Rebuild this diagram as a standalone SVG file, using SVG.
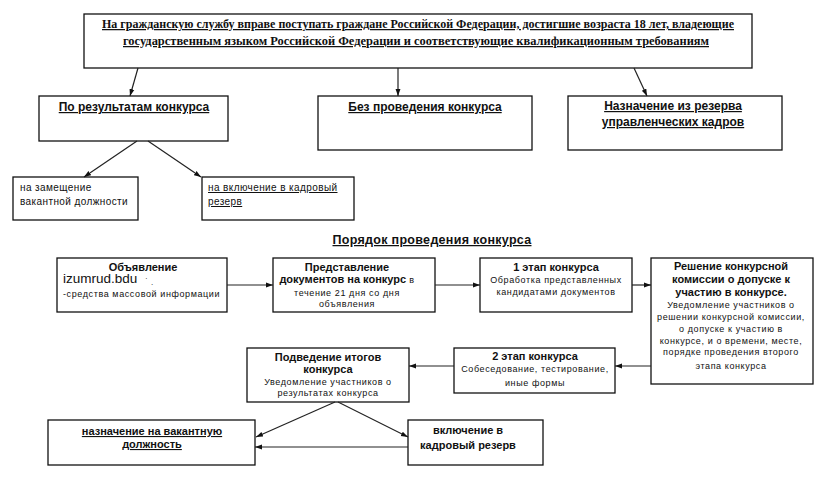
<svg xmlns="http://www.w3.org/2000/svg" width="828" height="497" viewBox="0 0 828 497">
<defs>
<marker id="ah" viewBox="0 0 10 10" refX="10" refY="5" markerWidth="7" markerHeight="7" orient="auto" markerUnits="userSpaceOnUse">
<path d="M0,1.5 L10,5 L0,8.5 z" fill="#111"/>
</marker>
<style>
rect{fill:#fff;stroke:#111;stroke-width:1.3}
.c line{stroke:#222;stroke-width:1.2;marker-end:url(#ah)}
text{font-family:"Liberation Sans",Arial,sans-serif;fill:#111}
.top{font-family:"Liberation Serif","Times New Roman",serif;font-weight:bold;font-size:12.5px;text-decoration:underline}
.b{font-weight:bold;font-size:11px}
.bu{font-weight:bold;font-size:12px;text-decoration:underline}
.s{font-size:9px;letter-spacing:0.6px}
.m{font-size:10px;letter-spacing:0.4px}
.mid{text-anchor:middle}
</style>
</defs>
<rect x="0" y="0" width="828" height="497" style="fill:#fff;stroke:none"/>

<g id="top">
<rect x="84" y="14" width="668" height="54"/>
<text class="top mid" x="418" y="28" textLength="632" lengthAdjust="spacingAndGlyphs">На гражданскую службу вправе поступать граждане Российской Федерации, достигшие возраста 18 лет, владеющие</text>
<text class="top mid" x="416" y="45" textLength="586" lengthAdjust="spacingAndGlyphs">государственным языком Российской Федерации и соответствующие квалификационным требованиям</text>
</g>

<g id="po-rezultatam">
<rect x="39" y="96" width="189" height="45"/>
<text class="bu mid" x="134" y="111">По результатам  конкурса</text>
</g>

<g id="bez-konkursa">
<rect x="318" y="96" width="214" height="54"/>
<text class="bu mid" x="425" y="111">Без проведения конкурса</text>
</g>

<g id="iz-rezerva">
<rect x="568" y="96" width="214" height="54"/>
<text class="bu mid" x="673" y="110">Назначение из резерва</text>
<text class="bu mid" x="673" y="126">управленческих кадров</text>
</g>

<g id="zameshenie">
<rect x="13" y="177" width="125" height="43"/>
<text class="m" x="20" y="191">на замещение</text>
<text class="m" x="20" y="205">вакантной должности</text>
</g>

<g id="vkluchenie-rezerv">
<rect x="202" y="177" width="152" height="43"/>
<text class="m" x="208" y="191" text-decoration="underline">на включение в кадровый</text>
<text class="m" x="208" y="205" text-decoration="underline">резерв </text>
</g>

<g id="title">
<text class="mid" x="432" y="244" font-weight="bold" font-size="12.5" letter-spacing="0.3" text-decoration="underline">Порядок проведения конкурса</text>
</g>

<g id="obyavlenie">
<rect x="57" y="258" width="170" height="54"/>
<text class="b mid" x="143" y="271">Объявление</text>
<text x="63" y="283" font-size="13.5" fill="#333">izumrud.bdu</text>
<text x="145" y="281" font-size="8">·</text>
<text x="151" y="285" font-size="8">.</text>
<text class="s" x="63" y="297">-средства массовой информации</text>
</g>

<g id="predstavlenie">
<rect x="273" y="258" width="162" height="54"/>
<text class="b mid" x="347" y="271">Представление</text>
<text class="mid" x="347" y="283"><tspan class="b">документов на конкурс</tspan><tspan class="s"> в</tspan></text>
<text class="s mid" x="347" y="296">течение 21 дня со дня</text>
<text class="s mid" x="347" y="307">объявления</text>
</g>

<g id="etap1">
<rect x="480" y="258" width="152" height="54"/>
<text class="b mid" x="556" y="271">1 этап конкурса</text>
<text class="s mid" x="556" y="283">Обработка представленных</text>
<text class="s mid" x="556" y="295">кандидатами документов</text>
</g>

<g id="reshenie">
<rect x="651" y="258" width="162" height="126"/>
<text class="b mid" x="731" y="270">Решение конкурсной</text>
<text class="b mid" x="731" y="283">комиссии о допуске к</text>
<text class="b mid" x="731" y="296">участию в конкурсе.</text>
<text class="s mid" x="731" y="308">Уведомление участников о</text>
<text class="s mid" x="731" y="320">решении конкурсной комиссии,</text>
<text class="s mid" x="731" y="332">о допуске к участию в</text>
<text class="s mid" x="731" y="344">конкурсе, и о времени, месте,</text>
<text class="s mid" x="731" y="355">порядке проведения второго</text>
<text class="s mid" x="731" y="369">этапа конкурса</text>
</g>

<g id="etap2">
<rect x="454" y="348" width="161" height="45"/>
<text class="b mid" x="535" y="360">2 этап конкурса</text>
<text class="s mid" x="535" y="372">Собеседование, тестирование,</text>
<text class="s mid" x="535" y="386">иные формы</text>
</g>

<g id="podvedenie">
<rect x="247" y="348" width="162" height="54"/>
<text class="b mid" x="328" y="361">Подведение итогов</text>
<text class="b mid" x="328" y="373">конкурса</text>
<text class="s mid" x="328" y="385">Уведомление участников о</text>
<text class="s mid" x="328" y="396">результатах конкурса</text>
</g>

<g id="naznachenie">
<rect x="48" y="420" width="207" height="45"/>
<text class="b mid" x="152" y="435" text-decoration="underline">назначение на вакантную</text>
<text class="b mid" x="152" y="448" text-decoration="underline">должность</text>
</g>

<g id="vkluchenie">
<rect x="408" y="420" width="135" height="45"/>
<text class="b mid" x="468" y="434">включение в</text>
<text class="b mid" x="468" y="449">кадровый резерв</text>
</g>

<g class="c" id="connectors">
<line x1="138" y1="68" x2="130" y2="96"/>
<line x1="398" y1="68" x2="398" y2="96"/>
<line x1="634" y1="68" x2="647" y2="96"/>
<line x1="137" y1="141" x2="84" y2="177"/>
<line x1="148" y1="141" x2="201" y2="177"/>
<line x1="227" y1="285" x2="273" y2="285"/>
<line x1="435" y1="285" x2="480" y2="285"/>
<line x1="632" y1="285" x2="651" y2="285"/>
<line x1="651" y1="366" x2="615" y2="366"/>
<line x1="454" y1="366" x2="409" y2="366"/>
<line x1="335" y1="402" x2="256" y2="437"/>
<line x1="338" y1="402" x2="408" y2="437"/>
<line x1="408" y1="447" x2="255" y2="447"/>
</g>
</svg>
